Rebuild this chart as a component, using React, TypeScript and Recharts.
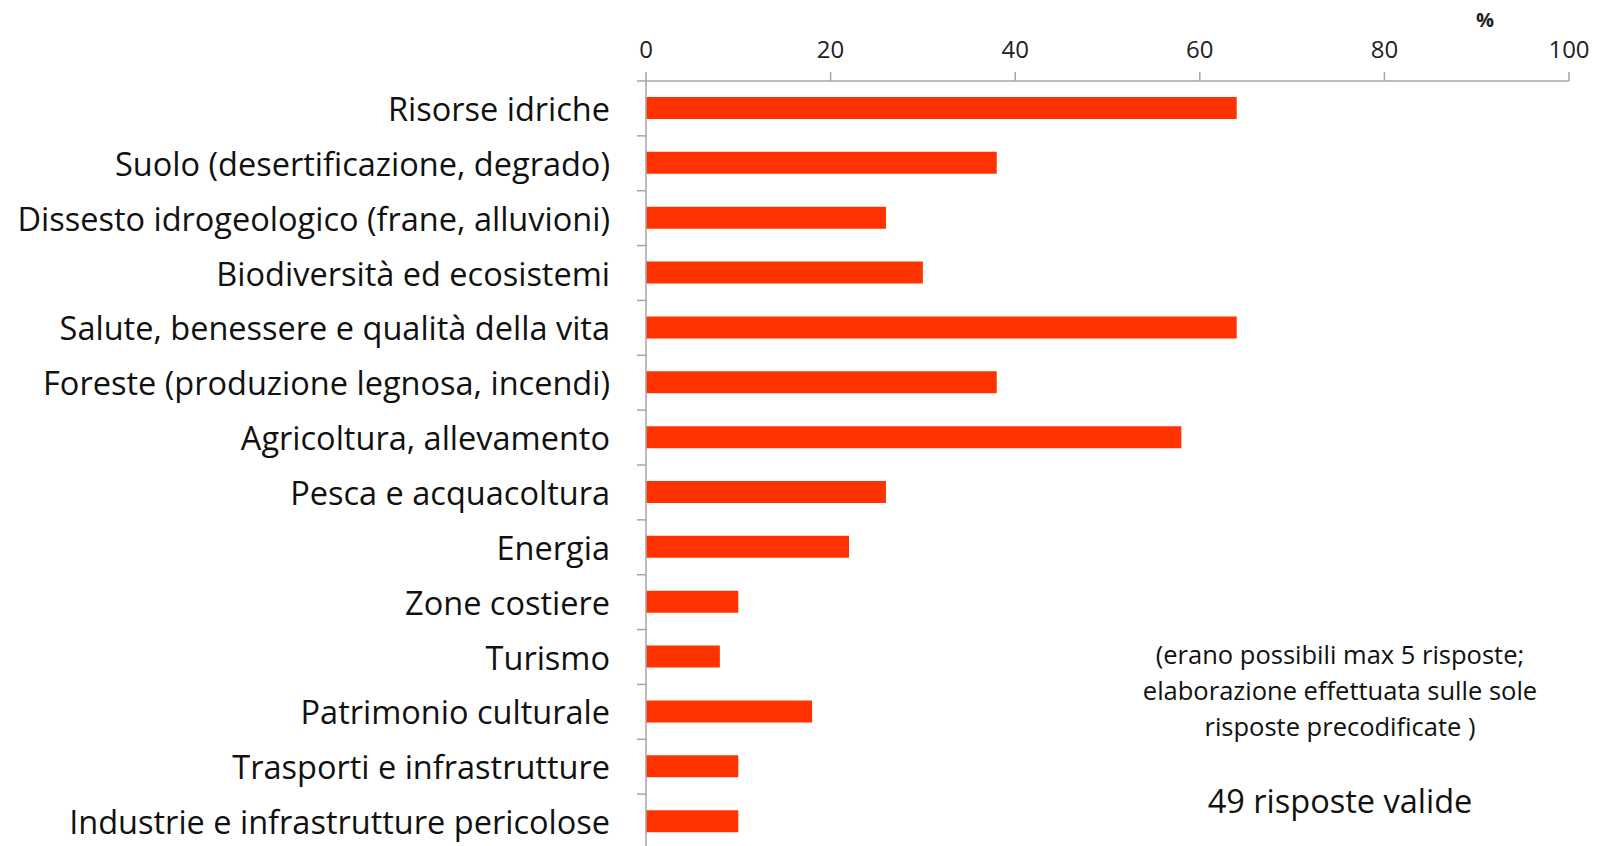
import { BarChart, Bar, XAxis, YAxis } from "recharts"

const categories = [
  "Risorse idriche",
  "Suolo (desertificazione, degrado)",
  "Dissesto idrogeologico (frane, alluvioni)",
  "Biodiversità ed ecosistemi",
  "Salute, benessere e qualità della vita",
  "Foreste (produzione legnosa, incendi)",
  "Agricoltura, allevamento",
  "Pesca e acquacoltura",
  "Energia",
  "Zone costiere",
  "Turismo",
  "Patrimonio culturale",
  "Trasporti e infrastrutture",
  "Industrie e infrastrutture pericolose",
]

const percentages = [64, 38, 26, 30, 64, 38, 58, 26, 22, 10, 8, 18, 10, 10]

const xTicks = [0, 20, 40, 60, 80, 100]

const noteLines = [
  "(erano possibili max 5 risposte;",
  "elaborazione effettuata sulle sole",
  "risposte precodificate )",
]
const validLabel = "49 risposte valide"

const FONT = "'Open Sans', sans-serif"
const AXIS_COLOR = "#a6a6a6"
const Y_TICK_SIZE = 9
const Y_TICK_MARGIN = 27

const data = categories.map((name, i) => ({ name, value: percentages[i] }))

// category label plus an Excel-style tick on the band boundary
function CategoryTick(props: any) {
  const { x, y, payload } = props
  const axisX = x + Y_TICK_SIZE + Y_TICK_MARGIN
  const off = payload.offset ?? 0
  return (
    <g>
      <line x1={axisX - Y_TICK_SIZE} x2={axisX} y1={y - off} y2={y - off} stroke={AXIS_COLOR} strokeWidth={1.5} />
      <text
        x={x}
        y={y}
        textAnchor="end"
        dominantBaseline="central"
        fontFamily={FONT}
        fontSize={32.5}
        fill="#111"
      >
        {payload.value}
      </text>
    </g>
  )
}

export default function App() {
  return (
    <div style={{ position: "absolute", left: 0, top: 0, width: 1605, height: 846, overflow: "hidden", background: "#fff" }}>
      <BarChart
        width={1605}
        height={849}
        data={data}
        layout="vertical"
        margin={{ top: 0, right: 36, bottom: 0, left: 0 }}
        barSize={22}
      >
        <XAxis
          type="number"
          orientation="top"
          domain={[0, 100]}
          ticks={xTicks}
          height={81}
          tickSize={9}
          tickMargin={14}
          stroke={AXIS_COLOR}
          strokeWidth={1.5}
          tick={{ fill: "#222", fontSize: 24, fontFamily: FONT }}
        />
        <YAxis
          type="category"
          dataKey="name"
          width={646}
          tickSize={Y_TICK_SIZE}
          tickMargin={Y_TICK_MARGIN}
          tickLine={false}
          stroke={AXIS_COLOR}
          strokeWidth={1.5}
          interval={0}
          tick={<CategoryTick />}
        />
        <Bar dataKey="value" fill="#ff3300" isAnimationActive={false} />
      </BarChart>
      <div
        style={{
          position: "absolute",
          left: 1476,
          top: 6,
          fontFamily: FONT,
          fontWeight: 700,
          fontSize: 20,
          color: "#222",
        }}
      >
        %
      </div>
      <div
        style={{
          position: "absolute",
          left: 1090,
          width: 500,
          top: 636,
          textAlign: "center",
          fontFamily: FONT,
          fontSize: 25.5,
          lineHeight: "36px",
          color: "#111",
        }}
      >
        {noteLines.map((l) => (
          <div key={l}>{l}</div>
        ))}
        <div style={{ fontSize: 32.5, lineHeight: "40px", marginTop: 37 }}>{validLabel}</div>
      </div>
    </div>
  )
}
